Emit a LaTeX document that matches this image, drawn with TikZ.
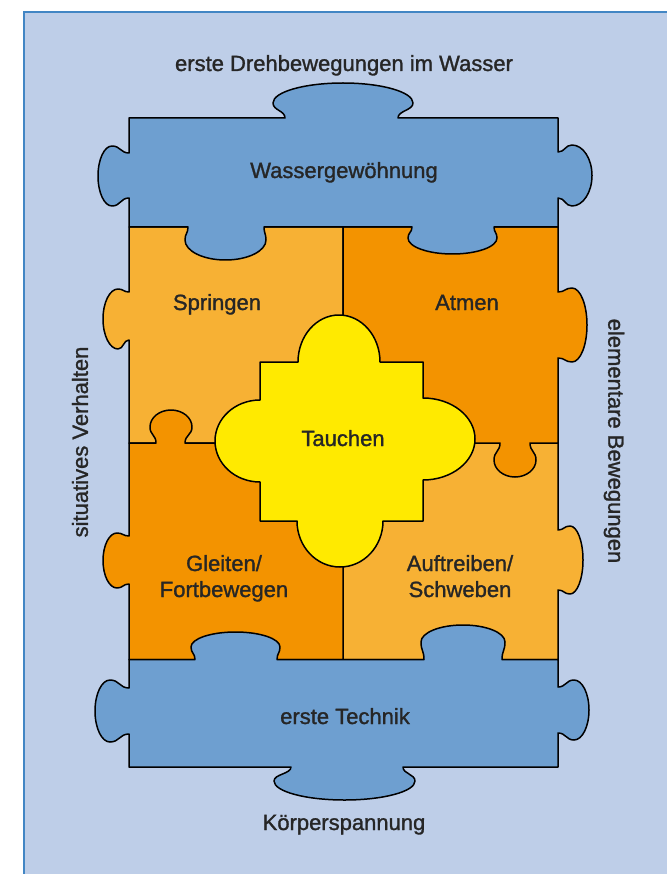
\documentclass[tikz,border=0pt]{standalone}
\usepackage{fontspec}
\setmainfont{Liberation Sans}
\newfontfamily\lblfont[FakeBold=1.3]{Liberation Sans}
\definecolor{bgblue}{RGB}{190,206,232}
\definecolor{frameblue}{RGB}{66,134,196}
\definecolor{pieceblue}{RGB}{110,159,208}
\definecolor{lightorange}{RGB}{247,177,52}
\definecolor{darkorange}{RGB}{243,147,0}
\definecolor{tyellow}{RGB}{255,234,0}
\definecolor{txt}{RGB}{38,38,38}
% horizontal-edge tab: xA xB xL xR y0 ym y1
\newcommand\htab[7]{.. controls (#1,{#5+0.5*(#6-#5)}) and (#3,{#6-0.5*(#6-#5)}) .. (#3,#6)
 .. controls (#3,{#6+0.552*(#7-#6)}) and ({#3+0.448*((#4-#3)/2)},#7) .. ({(#3+#4)/2},#7)
 .. controls ({#4-0.448*((#4-#3)/2)},#7) and (#4,{#6+0.552*(#7-#6)}) .. (#4,#6)
 .. controls (#4,{#6-0.5*(#6-#5)}) and (#2,{#5+0.5*(#6-#5)}) .. (#2,#5)}
% vertical-edge tab: yA yB yL yR x0 xm x1
\newcommand\vtab[7]{.. controls ({#5+0.5*(#6-#5)},#1) and ({#6-0.5*(#6-#5)},#3) .. (#6,#3)
 .. controls ({#6+0.552*(#7-#6)},#3) and (#7,{#3+0.448*((#4-#3)/2)}) .. (#7,{(#3+#4)/2})
 .. controls (#7,{#4-0.448*((#4-#3)/2)}) and ({#6+0.552*(#7-#6)},#4) .. (#6,#4)
 .. controls ({#6-0.5*(#6-#5)},#4) and ({#5+0.5*(#6-#5)},#2) .. (#5,#2)}
\tikzset{
  piece/.style={draw=black, line width=1.5pt, line join=round},
  lbl/.style={font=\lblfont\fontsize{22}{26}\selectfont, text=txt, align=center, inner sep=0pt},
}
\begin{document}
\begin{tikzpicture}[x=1pt,y=-1pt]
\useasboundingbox (0,0) rectangle (666,874);
\fill[white] (0,0) rectangle (666,874);
\fill[bgblue] (24,12) rectangle (667,875);
\draw[frameblue, line width=2.5pt] (24,875) -- (24,12) -- (667,12);

% Springen
\path[piece, fill=lightorange] (129,227) -- (343,227) -- (343,443) -- (129,443) -- (129,340)
  \vtab{340}{292}{349}{289}{129}{118}{103} -- cycle;
% Auftreiben
\path[piece, fill=lightorange] (343,443) -- (558,443) -- (558,530)
  \vtab{530}{590}{526}{594}{558}{570}{583} -- (558,659.5) -- (343,659.5) -- cycle;
% Atmen
\path[piece, fill=darkorange] (343,227) -- (558,227) -- (558,292)
  \vtab{292}{358}{288}{362}{558}{572}{587} -- (558,443) -- (530,443)
  \htab{530}{500}{536}{494}{443}{460}{477} -- (343,443) -- cycle;
% Gleiten
\path[piece, fill=darkorange] (129,443) -- (156,443)
  \htab{156}{185}{150}{192}{443}{427}{410} -- (343,443) -- (343,659.5) -- (129,659.5) -- (129,584)
  \vtab{584}{536}{588}{533}{129}{117}{103} -- cycle;

% Wassergewoehnung (top)
\path[piece, fill=pieceblue] (129,118) -- (285,118)
  \htab{285}{398}{273}{413}{118}{103}{83} -- (558,118) -- (558,152)
  \vtab{152}{198}{145}{206}{558}{572}{592} -- (558,227) -- (494,227)
  \htab{494}{412}{497}{408}{227}{238}{254} -- (264,227)
  \htab{264}{188}{266}{185}{227}{240}{260} -- (129,227) -- (129,198)
  \vtab{198}{153}{206}{146}{129}{112}{98} -- cycle;

% erste Technik (bottom)
\path[piece, fill=pieceblue] (129,659.5) -- (195,659.5)
  \htab{195}{277}{191}{280}{659.5}{647}{632} -- (424,659.5)
  \htab{424}{502}{421}{505}{659.5}{642}{625} -- (558,659.5) -- (558,687)
  \vtab{687}{733}{680}{740}{558}{574}{589} -- (558,767) -- (403,767)
  \htab{403}{291}{415}{274}{767}{781}{800} -- (129,767) -- (129,734)
  \vtab{734}{688}{742}{680}{129}{110}{95} -- cycle;

% Tauchen
\path[piece, fill=tyellow] (260,362) -- (298,362)
  \htab{298}{380}{298}{380}{362}{362}{315} -- (423,362) -- (423,398)
  \vtab{398}{480}{398}{480}{423}{423}{475} -- (423,521) -- (383,521)
  \htab{383}{297}{383}{297}{521}{521}{567} -- (260,521) -- (260,482)
  \vtab{482}{400}{482}{400}{260}{260}{215} -- cycle;

% labels
\node[lbl, anchor=base] (dreh) at (344,71) {erste Drehbewegungen im Wasser};
\node[lbl, anchor=base] (wasser) at (344,178) {Wassergewöhnung};
\node[lbl, anchor=base] (spring) at (217,310) {Springen};
\node[lbl, anchor=base] (atmen) at (467,310) {Atmen};
\node[lbl, anchor=base] (tauch) at (343,446) {Tauchen};
\node[lbl, anchor=base] (gleit) at (224,597) {Gleiten/\\Fortbewegen};
\node[lbl, anchor=base] (auftr) at (460,597) {Auftreiben/\\Schweben};
\node[lbl, anchor=base] (technik) at (345,724) {erste Technik};
\node[lbl, anchor=base] (koerper) at (344,830) {Körperspannung};
\node[lbl, rotate=90] (situ) at (80,442) {situatives Verhalten};
\node[lbl, rotate=-90] (elem) at (614,441) {elementare Bewegungen};
\end{tikzpicture}
\end{document}
